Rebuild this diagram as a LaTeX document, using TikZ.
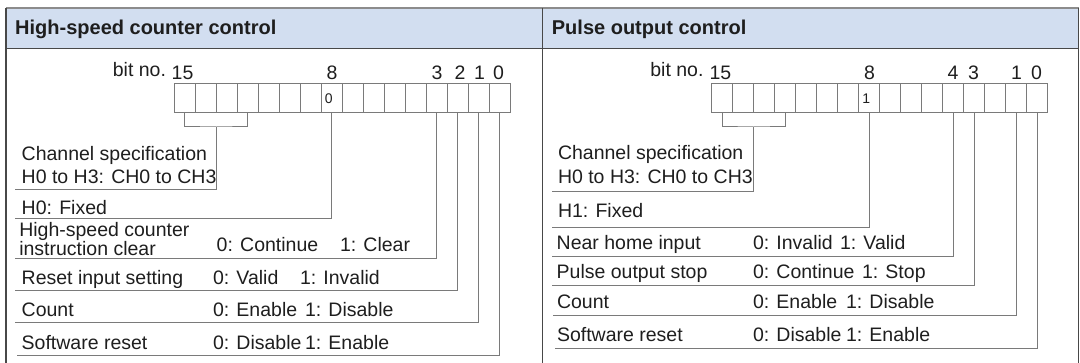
\documentclass[tikz,border=0pt]{standalone}
\usepackage{fontspec}
\setmainfont{Liberation Sans}
\usetikzlibrary{calc}
\definecolor{hdr}{HTML}{D2DEF0}
\definecolor{frm}{HTML}{484848}
\definecolor{frmtop}{HTML}{8C8C8C}
\definecolor{ln}{HTML}{7A7A7A}
\definecolor{txt}{HTML}{1E1E1E}
\begin{document}
\begin{tikzpicture}[x=1pt,y=-1pt,
  lbl/.style={anchor=base west,inner sep=0,outer sep=0,font=\fontsize{19.5}{23}\selectfont,text=txt},
  lble/.style={lbl,anchor=base east},
  lblc/.style={lbl,anchor=base},
  ttl/.style={anchor=base west,inner sep=0,font=\bfseries\fontsize{20}{24}\selectfont,text=txt},
  cell/.style={draw=ln,line width=1pt,minimum width=21pt,minimum height=29pt,inner sep=0,outer sep=0},
  small/.style={inner sep=0,font=\fontsize{14}{16}\selectfont,text=txt},
  conn/.style={draw=ln,line width=1pt},
  frame/.style={draw=frm,line width=1.5pt}]
\useasboundingbox (0,0) rectangle (1080,363);
% frame and headers
\fill[hdr] (6,8) rectangle (1078.5,48.5);
\draw[draw=frmtop,line width=1.5pt] (6,8) -- (1078.5,8);
\draw[frame] (6,48.5) -- (1078.5,48.5);
\draw[frame] (6,8) -- (6,365);
\draw[frame] (542.7,8) -- (542.7,365);
\draw[frame] (1078.5,8) -- (1078.5,365);
\node[ttl] (t1) at (15,35) {High-speed counter control};
\node[ttl] (t2) at (551.7,35) {Pulse output control};

% ---------- left panel ----------
\foreach \b in {0,...,15} \node[cell] (L\b) at ({499.8-21*\b},98.5) {};
\node[small] (z8) at ($(L8.center)+(-3,0.5)$) {0};
\node[lble] (bn1) at (166,77) {bit no.};
\node[lbl] (n15a) at (171.7,80) {15};
\node[lblc] (n8a) at (332,80) {8};
\node[lblc] (n3a) at (437,80) {3};
\node[lblc] (n2a) at (460,80) {2};
\node[lblc] (n1a) at (479.5,80) {1};
\node[lblc] (n0a) at (498.5,80) {0};

\coordinate (bkL) at ($(L15.south)!0.5!(L12.south)+(0,14)$);
\draw[conn] (L15.south) |- (bkL) -| (L12.south);
\coordinate (eLc) at (15,190);
\coordinate (eL8) at (15,219);
\coordinate (eL3) at (15,259);
\coordinate (eL2) at (15,291);
\coordinate (eL1) at (15,323);
\coordinate (eL0) at (17,356);
\draw[conn] (bkL) |- (eLc);
\draw[conn] (L8.south) |- (eL8);
\draw[conn] (L3.south) |- (eL3);
\draw[conn] (L2.south) |- (eL2);
\draw[conn] (L1.south) |- (eL1);
\draw[conn] (L0.south) |- (eL0);

\node[lbl] (a1) at (21.7,160.7) {Channel specification};
\node[lbl] (a2) at (21.7,184) {H0 to H3: CH0 to CH3};
\node[lbl] (a3) at (21.7,215) {H0: Fixed};
\node[lbl] (a4) at (19.3,237) {High-speed counter};
\node[lbl] (a5) at (19.3,256) {instruction clear};
\node[lbl] (a6) at (216.7,252) {0: Continue};
\node[lbl] (a7) at (340,252) {1: Clear};
\node[lbl] (a8) at (21.7,285) {Reset input setting};
\node[lbl] (a9) at (213,285) {0: Valid};
\node[lbl] (a10) at (300,285) {1: Invalid};
\node[lbl] (a11) at (21.7,317) {Count};
\node[lbl] (a12) at (213,317) {0: Enable};
\node[lbl] (a13) at (305,317) {1: Disable};
\node[lbl] (a14) at (21.7,350) {Software reset};
\node[lbl] (a15) at (213,350) {0: Disable};
\node[lbl] (a16) at (305,350) {1: Enable};

% ---------- right panel ----------
\foreach \b in {0,...,15} \node[cell] (R\b) at ({1037.2-21*\b},98.5) {};
\node[small] (o8) at ($(R8.center)+(-3,0.5)$) {1};
\node[lble] (bn2) at (703.5,77) {bit no.};
\node[lbl] (n15b) at (709.5,80) {15};
\node[lblc] (n8b) at (869.5,80) {8};
\node[lblc] (n4b) at (953,80) {4};
\node[lblc] (n3b) at (973.5,80) {3};
\node[lblc] (n1b) at (1016.5,80) {1};
\node[lblc] (n0b) at (1036.5,80) {0};

\coordinate (bkR) at ($(R15.south)!0.5!(R12.south)+(0,14)$);
\draw[conn] (R15.south) |- (bkR) -| (R12.south);
\coordinate (eRc) at (552,191.7);
\coordinate (eR8) at (552,227.7);
\coordinate (eR4) at (552,256.7);
\coordinate (eR3) at (552,286);
\coordinate (eR1) at (553,316);
\coordinate (eR0) at (555,348.3);
\draw[conn] (bkR) |- (eRc);
\draw[conn] (R8.south) |- (eR8);
\draw[conn] (R4.south) |- (eR4);
\draw[conn] (R3.south) |- (eR3);
\draw[conn] (R1.south) |- (eR1);
\draw[conn] (R0.south) |- (eR0);

\node[lbl] (b1) at (558,160) {Channel specification};
\node[lbl] (b2) at (558,184) {H0 to H3: CH0 to CH3};
\node[lbl] (b3) at (558,218) {H1: Fixed};
\node[lbl] (b4) at (556.7,250) {Near home input};
\node[lbl] (b5) at (753,250) {0: Invalid};
\node[lbl] (b6) at (840,250) {1: Valid};
\node[lbl] (b7) at (556.7,279) {Pulse output stop};
\node[lbl] (b8) at (753,279) {0: Continue};
\node[lbl] (b9) at (862,279) {1: Stop};
\node[lbl] (b10) at (557,309) {Count};
\node[lbl] (b11) at (753,309) {0: Enable};
\node[lbl] (b12) at (846,309) {1: Disable};
\node[lbl] (b13) at (557,341.7) {Software reset};
\node[lbl] (b14) at (753,341.7) {0: Disable};
\node[lbl] (b15) at (846,341.7) {1: Enable};
\end{tikzpicture}
\end{document}
